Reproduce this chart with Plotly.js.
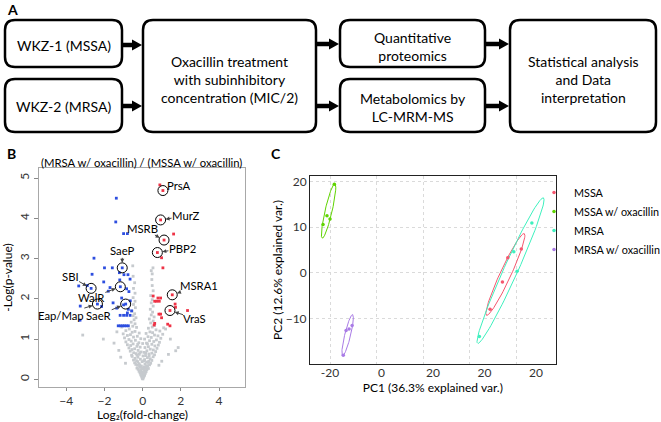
<!DOCTYPE html>
<html><head><meta charset="utf-8">
<script src="https://cdn.plot.ly/plotly-3.0.1.min.js"></script>
<style>html,body{margin:0;padding:0;background:#fff}#chart{width:661px;height:422px}</style>
</head><body><div id="chart"></div>
<script>
// ---------- Panel A: workflow boxes ----------
const stepTexts = ['WKZ-1 (MSSA)', 'WKZ-2 (MRSA)', 'Oxacillin treatment<br>with subinhibitory<br>concentration (MIC/2)',
  'Quantitative<br>proteomics', 'Metabolomics by<br>LC-MRM-MS', 'Statistical analysis<br>and Data<br>interpretation'];

// ---------- Panel B: volcano plot ----------
const volcanoTitle = '(MRSA w/ oxacillin) / (MSSA w/ oxacillin)';
const volcanoXTitle = 'Log₂(fold-change)';
const grayX = [0,0.03,-0.03,0.06,-0.06,0.1,-0.1,0,0.14,-0.14,0.05,-0.05,0.18,-0.19,0.1,-0.1,0.22,-0.24,0.02,0.3,-0.3,0.16,-0.16,
  0.07,-0.07,0.26,-0.27,0.36,-0.36,0.12,-0.2,0.42,-0.42,0.2,-0.03,0.32,-0.32,0.48,-0.48,0.1,-0.12,
  0.4,-0.4,0.25,-0.25,0.55,-0.55,0.02,0.15,-0.58,0.62,-0.18,0.33,-0.34,0.48,-0.47,0.08,-0.08,0.68,-0.65,
  0.22,-0.24,0.56,-0.56,0.4,-0.42,0.75,-0.72,0.12,-0.13,0.3,-0.3,0.64,-0.63,0.82,-0.8,0.48,-0.5,0,0.2,
  -0.2,0.88,-0.88,0.58,-0.6,0.36,-0.38,0.72,-0.72,0.1,-0.1,0.95,-0.95,0.45,-0.48,0.28,-0.28,0.8,-0.8,0.62,
  -0.64,1.05,-1.02,0.18,-0.18,0.52,-0.55,0.38,-0.4,0.9,-0.88,0.7,-0.7,0.3,-0.32,0.5,-0.52,1.1,-1.1,0.62,
  -0.4,0.42,-0.6,0.55,-0.45,0.35,-0.35,0.6,-0.5,0.45,-0.42,0.52,-0.55,0.4,-0.38,0.55,-0.48,0.45,-0.4,0.5,
  -0.5,0.42,-0.4,0.55,-0.48,0.5,-0.42,0.48,-0.5,0.5,-0.52,0.54,0.45,
  -3.14,-2.06,1.86,1.73,-1.5,1.35,-1.25,1.45,-1.35,1.2,-1.15,1.0,-0.9,0.85,
  0.01,-0.02,0.04,-0.04,0.08,-0.08,0.12,-0.12,0.06,-0.05,0.2,-0.15,0.28,-0.26,0.05,0.34,-0.3,0.16,-0.15,0.25,-0.26];
const grayY = [0.02,0.04,0.05,0.07,0.08,0.1,0.11,0.13,0.15,0.16,0.17,0.18,0.19,0.2,0.22,0.23,0.24,0.25,0.26,0.27,0.28,0.29,0.3,
  0.31,0.33,0.34,0.35,0.36,0.37,0.38,0.39,0.4,0.41,0.43,0.44,0.45,0.46,0.47,0.48,0.49,0.5,
  0.51,0.52,0.54,0.55,0.56,0.57,0.58,0.59,0.6,0.61,0.62,0.63,0.64,0.65,0.66,0.67,0.68,0.69,0.7,
  0.71,0.72,0.73,0.74,0.75,0.76,0.77,0.78,0.79,0.8,0.81,0.82,0.83,0.84,0.85,0.86,0.87,0.88,0.89,0.9,
  0.91,0.92,0.93,0.94,0.95,0.96,0.97,0.98,0.99,1.0,1.01,1.02,1.03,1.04,1.05,1.06,1.07,1.08,1.09,1.1,
  1.11,1.12,1.13,1.14,1.15,1.16,1.17,1.18,1.19,1.2,1.21,1.23,1.25,1.27,1.29,1.3,1.32,1.28,1.3,1.34,
  1.38,1.4,1.42,1.45,1.48,1.5,1.53,1.55,1.58,1.6,1.63,1.67,1.7,1.74,1.78,1.82,1.86,1.9,1.94,1.98,
  2.03,2.08,2.14,2.2,2.26,2.33,2.4,2.48,2.56,2.62,2.82,2.77,2.7,
  1.1,1.0,0.79,0.71,0.9,0.62,0.72,1.0,1.18,1.25,0.55,0.45,0.4,0.35,
  0.01,0.03,0.09,0.12,0.14,0.15,0.2,0.21,0.25,0.28,0.33,0.36,0.42,0.44,0.46,0.58,0.6,0.65,0.66,0.88,0.87];
const downX = [-1.38,-1.41,-1.0,-0.8,-2.55,-2.0,-1.59,-2.65,-1.22,-0.98,-0.77,-0.66,-1.2,-2.04,-3.35,-2.9,
  -1.71,-0.84,-0.72,-1.8,-2.15,-3.28,-1.36,-0.75,-0.58,-0.8,-1.18,-1.0,-0.84,-0.66,
  -1.28,-1.17,-1.06,-0.96,-0.86,-0.75,-3.27,-1.1,-0.65,-1.0,-1.55];
const downY = [4.5,3.91,3.62,3.62,3.01,2.77,2.77,2.61,2.65,2.6,2.6,2.49,2.47,2.42,2.32,2.33,
  2.28,2.25,2.18,2.19,1.81,1.47,1.77,1.74,1.7,1.65,1.59,1.59,1.59,1.59,
  1.33,1.33,1.33,1.33,1.33,1.33,1.82,2.02,1.95,1.85,1.9];
const upX = [0.9,1.62,0.99,1.06,0.55,0.8,0.94,0.63,0.73,0.87,1.7,1.72,2.35,0.85,0.94,0.99,0.63,0.6,1.31,1.43];
const upY = [4.83,3.61,3.02,2.77,2.07,2.02,2.02,1.94,1.94,1.94,1.87,1.79,1.71,1.62,1.62,1.53,1.39,1.35,1.37,1.33];
const geneNames = ['PrsA','MurZ','MSRB','PBP2','SaeP','SBI','WalR','Eap/Map','SaeR','MSRA1','VraS'];
const geneLog2FC = [1.06,0.94,1.12,0.77,-1.07,-2.7,-1.17,-2.37,-0.89,1.55,1.43];
const geneNegLogP = [4.69,3.96,3.46,3.15,2.77,2.26,2.3,1.87,1.87,2.1,1.71];
const volcanoXTicks = [-4,-2,0,2,4];
const volcanoYTicks = [0,1,2,3,4,5];

// ---------- Panel C: PCA ----------
const pcaGroups = ['MSSA','MSSA w/ oxacillin','MRSA','MRSA w/ oxacillin'];
const mssaPC1 = [62.2,54.1,48.8,56.4];
const mssaPC2 = [5.25,-1.97,-7.94,3.35];
const mssaOxPC1 = [-18.15,-21.3,-20.0,-23.0];
const mssaOxPC2 = [19.4,12.5,11.8,10.6];
const mrsaPC1 = [66.75,59.0,60.4,44.2];
const mrsaPC2 = [10.94,4.66,0.37,-13.9];
const mrsaOxPC1 = [-10.5,-11.8,-13.1,-14.3];
const mrsaOxPC2 = [-11.5,-12.25,-12.6,-18.0];
const pc1TickVals = [-20,0,20,40,60];
const pc1TickText = ['-20','0','20','20','20'];
const pc2TickVals = [-10,0,10,20];

// ---------- styles ----------
const W = 661, H = 422;
const FONT = 'Lato, "Open Sans", sans-serif';
const X = p => p / W, Y = p => 1 - p / H;
const pcaColors = ['#F5566E','#5FD400','#3EF0BE','#A97BE6'];
const geneColorUp = '#EE3346', geneColorDown = '#2D4EDF';
const labelDX = [16,25,-22,25,0,-21,-29,-36,-27,27,25];
const labelDY = [-5,-4,-12,-4,-17,-12,11,11,11,-9,8];

const shapes = [], annotations = [];
function rrect(x0,y0,x1,y1,r){
  const p = `M ${X(x0+r)},${Y(y0)} L ${X(x1-r)},${Y(y0)} Q ${X(x1)},${Y(y0)} ${X(x1)},${Y(y0+r)} L ${X(x1)},${Y(y1-r)} Q ${X(x1)},${Y(y1)} ${X(x1-r)},${Y(y1)} L ${X(x0+r)},${Y(y1)} Q ${X(x0)},${Y(y1)} ${X(x0)},${Y(y1-r)} L ${X(x0)},${Y(y0+r)} Q ${X(x0)},${Y(y0)} ${X(x0+r)},${Y(y0)} Z`;
  shapes.push({type:'path', xref:'paper', yref:'paper', path:p, line:{color:'#000', width:2.5}, fillcolor:'rgba(0,0,0,0)'});
}
function arrow(x1,x2,y){
  shapes.push({type:'line', xref:'paper', yref:'paper', x0:X(x1), x1:X(x2-7), y0:Y(y), y1:Y(y), line:{color:'#000', width:4.5}});
  shapes.push({type:'path', xref:'paper', yref:'paper', path:`M ${X(x2-10)},${Y(y-5.5)} L ${X(x2)},${Y(y)} L ${X(x2-10)},${Y(y+5.5)} Z`, fillcolor:'#000', line:{width:0}});
}
const boxes = [[5,20,122,67],[5,79,122,132],[143,20,316,132],[340,20,485,67],[340,79,485,132],[510,20,656,132]];
const textCY = [45,106,80,46,107,79];
boxes.forEach((b,i)=>{
  rrect(b[0],b[1],b[2],b[3],10);
  annotations.push({xref:'paper', yref:'paper', x:X((b[0]+b[2])/2), y:Y(textCY[i]), text:stepTexts[i], showarrow:false,
    font:{family:FONT, size:14, color:'#000'}, xanchor:'center', yanchor:'middle', align:'center'});
});
arrow(122,142,45); arrow(122,142,106);
arrow(316,339,44); arrow(316,339,106);
arrow(485,509,44); arrow(485,509,106);

// panel letters
[['A',12,9],['B',11,153],['C',276,153]].forEach(l=>annotations.push({xref:'paper', yref:'paper', x:X(l[1]), y:Y(l[2]), xanchor:'center', yanchor:'middle',
  text:'<b>'+l[0]+'</b>', showarrow:false, font:{family:FONT, size:14, color:'#000'}}));
annotations.push({xref:'paper', yref:'paper', x:X(141), y:Y(163), xanchor:'center', yanchor:'middle', text:volcanoTitle, showarrow:false,
  font:{family:FONT, size:11.3, color:'#000'}});
annotations.push({xref:'paper', yref:'paper', x:X(142), y:Y(414), xanchor:'center', yanchor:'middle', text:volcanoXTitle, showarrow:false,
  font:{family:FONT, size:12, color:'#000'}});

// gene labels
geneNames.forEach((g,i)=>annotations.push({xref:'x', yref:'y', x:geneLog2FC[i], y:geneNegLogP[i], text:g, showarrow:true,
  ax:labelDX[i], ay:labelDY[i], arrowhead:2, arrowsize:0.8, arrowwidth:1, arrowcolor:'#444', standoff:5,
  font:{family:FONT, size:11.3, color:'#000'}, borderpad:0}));

const up = geneLog2FC.map(v=>v>0);
const traces = [
  {type:'scatter', mode:'markers', x:grayX, y:grayY, xaxis:'x', yaxis:'y', showlegend:false, hoverinfo:'skip',
    marker:{color:'#C6CACE', size:2.8, symbol:'square'}},
  {type:'scatter', mode:'markers', x:downX.concat(geneLog2FC.filter((v,i)=>!up[i])), y:downY.concat(geneNegLogP.filter((v,i)=>!up[i])),
    xaxis:'x', yaxis:'y', showlegend:false, marker:{color:geneColorDown, size:2.8, symbol:'square'}},
  {type:'scatter', mode:'markers', x:upX.concat(geneLog2FC.filter((v,i)=>up[i])), y:upY.concat(geneNegLogP.filter((v,i)=>up[i])),
    xaxis:'x', yaxis:'y', showlegend:false, marker:{color:geneColorUp, size:2.8, symbol:'square'}},
  {type:'scatter', mode:'markers', x:geneLog2FC, y:geneNegLogP, xaxis:'x', yaxis:'y', showlegend:false,
    marker:{symbol:'circle-open', size:10, color:'#000', line:{width:1}}, text:geneNames}
];

// PCA with 68% normal ellipses (as in ggbiplot)
const pcaData = [[mssaPC1,mssaPC2],[mssaOxPC1,mssaOxPC2],[mrsaPC1,mrsaPC2],[mrsaOxPC1,mrsaOxPC2]];
const rad = Math.sqrt(-2*Math.log(1-0.68));
function ellipse(xs,ys){
  const n=xs.length, mx=xs.reduce((a,b)=>a+b)/n, my=ys.reduce((a,b)=>a+b)/n;
  let sxx=0,syy=0,sxy=0;
  for(let i=0;i<n;i++){sxx+=(xs[i]-mx)**2; syy+=(ys[i]-my)**2; sxy+=(xs[i]-mx)*(ys[i]-my);}
  sxx/=n-1; syy/=n-1; sxy/=n-1;
  const a=Math.sqrt(sxx), b=sxy/a, c=Math.sqrt(Math.max(syy-b*b,0));
  const ex=[], ey=[];
  for(let k=0;k<=100;k++){const t=2*Math.PI*k/100, u=Math.cos(t), v=Math.sin(t);
    ex.push(mx+rad*a*u); ey.push(my+rad*(b*u+c*v));}
  return [ex,ey];
}
pcaData.forEach((d,i)=>{
  const e = ellipse(d[0],d[1]);
  traces.push({type:'scatter', mode:'lines', x:e[0], y:e[1], xaxis:'x3', yaxis:'y3', showlegend:false, hoverinfo:'skip',
    line:{color:pcaColors[i], width:1}});
});
pcaData.forEach((d,i)=>{
  traces.push({type:'scatter', mode:'markers', name:pcaGroups[i], x:d[0], y:d[1], xaxis:'x3', yaxis:'y3',
    marker:{color:pcaColors[i], size:3.5}});
});
traces.push({type:'scatter', mode:'markers', x:[null], y:[null], xaxis:'x4', yaxis:'y3', showlegend:false, hoverinfo:'skip'});

const tickFont = {family:FONT, size:12, color:'#333'};
const layout = {
  width:W, height:H, margin:{l:0,r:0,t:0,b:0,autoexpand:false}, paper_bgcolor:'#fff', plot_bgcolor:'#fff',
  font:{family:FONT, size:12, color:'#000'}, showlegend:true,
  xaxis:{domain:[X(39),X(245)], anchor:'y', range:[-5.43,5.36], tickvals:volcanoXTicks, ticks:'outside', ticklen:3, tickcolor:'#888',
    showline:true, mirror:true, linecolor:'#A8A8A8', linewidth:1, showgrid:false, zeroline:false, tickfont:tickFont, automargin:false},
  yaxis:{domain:[Y(387),Y(168)], anchor:'x', range:[-0.19,5.25], tickvals:volcanoYTicks, ticks:'outside', ticklen:4, tickcolor:'#888',
    tickangle:-90, showline:true, mirror:true, linecolor:'#A8A8A8', linewidth:1, showgrid:false, zeroline:false, tickfont:tickFont, automargin:false,
    title:{text:'-Log(p-value)', font:{family:FONT,size:12,color:'#000'}, standoff:6}},
  xaxis3:{domain:[X(310),X(555.7)], anchor:'y3', range:[-28.6,77.0], tickvals:pc1TickVals, showticklabels:false, ticks:'',
    showline:true, mirror:true, linecolor:'#222', linewidth:1, showgrid:true, gridcolor:'#DADADA', griddash:'dot', zeroline:false, automargin:false},
  xaxis4:{overlaying:'x3', anchor:'y3', side:'bottom', range:[-27.77,67.65], tickvals:pc1TickVals, ticktext:pc1TickText,
    showgrid:false, zeroline:false, showline:false, ticks:'', tickfont:tickFont, automargin:false,
    title:{text:'PC1 (36.3% explained var.)', font:{family:FONT,size:12,color:'#000'}, standoff:2}},
  yaxis3:{domain:[Y(364),Y(176)], anchor:'x3', range:[-19.9,21.2], tickvals:pc2TickVals, ticks:'', tickfont:tickFont, automargin:false,
    showline:true, mirror:true, linecolor:'#222', linewidth:1, showgrid:true, gridcolor:'#DADADA', griddash:'dot', zeroline:false,
    title:{text:'PC2 (12.6% explained var.)', font:{family:FONT,size:12,color:'#000'}, standoff:0}},
  legend:{x:X(534), y:Y(178), xanchor:'left', yanchor:'top', font:{family:FONT,size:10.8,color:'#000'}, bgcolor:'rgba(0,0,0,0)',
    tracegroupgap:0, itemwidth:30},
  shapes:shapes, annotations:annotations
};
Plotly.newPlot('chart', traces, layout, {displayModeBar:false, staticPlot:true});
</script></body></html>
